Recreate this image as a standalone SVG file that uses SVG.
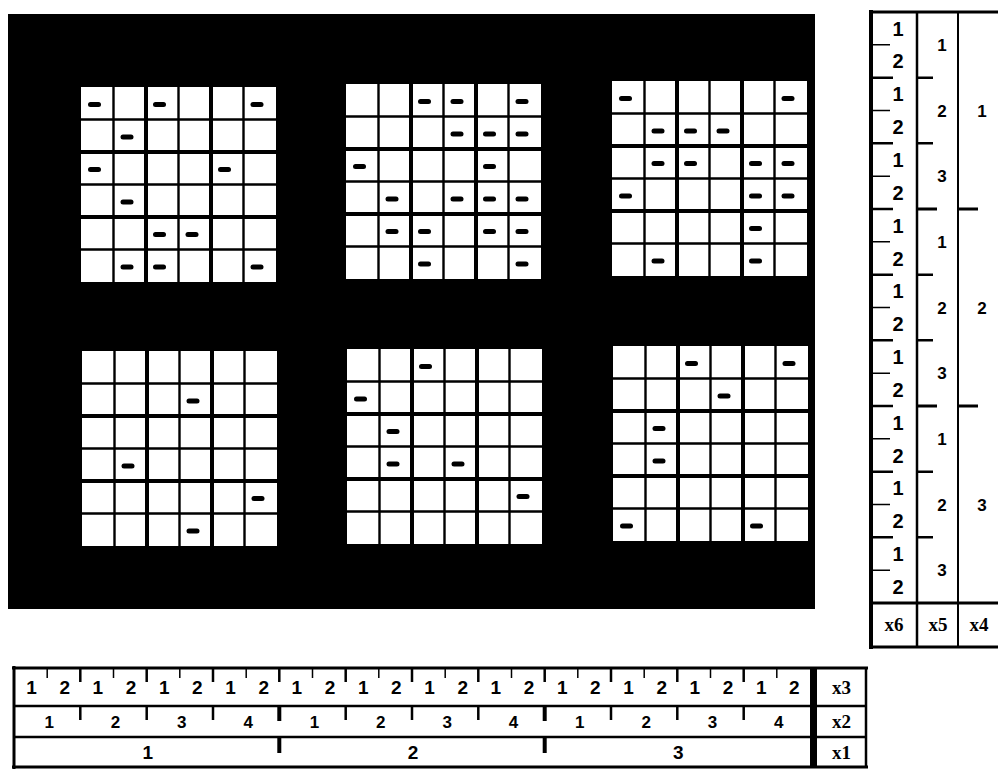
<svg xmlns="http://www.w3.org/2000/svg" xmlns:xlink="http://www.w3.org/1999/xlink" width="998" height="770" viewBox="0 0 998 770">
<style>
.cell{fill:#fff}
.thin{stroke:#000;stroke-width:2.4}
.thick{stroke:#000;stroke-width:4}
.rl{stroke:#000;fill:none}
.n19{font-family:"Liberation Sans",Arial,sans-serif;font-weight:bold;font-size:20px;text-anchor:middle;fill:#000}
.n18{font-family:"Liberation Sans",Arial,sans-serif;font-weight:bold;font-size:19px;text-anchor:middle;fill:#000}
.n16{font-family:"Liberation Sans",Arial,sans-serif;font-weight:bold;font-size:17px;text-anchor:middle;fill:#000}
.lab{font-family:"Liberation Serif","Times New Roman",serif;font-weight:bold;font-size:19px;text-anchor:middle;fill:#000}
</style>
<defs>
<rect id="d" width="13" height="5" rx="2.5" fill="#000"/>
<g id="grid">
<rect class="cell" x="0" y="0" width="195" height="195"/>
<path class="thin" d="M32.5 0V195M97.5 0V195M162.5 0V195M0 32.5H195M0 97.5H195M0 162.5H195"/>
<path class="thick" d="M65 0V195M130 0V195M0 65H195M0 130H195"/>
</g>
</defs>
<rect width="998" height="770" fill="#fff"/>
<rect id="panel" x="8" y="14" width="807" height="595" fill="#000"/>

<g id="grid1" transform="translate(81,87)">
<use xlink:href="#grid"/>
<use xlink:href="#d" x="7" y="15"/><use xlink:href="#d" x="72" y="15"/><use xlink:href="#d" x="169.5" y="15"/>
<use xlink:href="#d" x="39.5" y="47.5"/>
<use xlink:href="#d" x="7" y="80"/><use xlink:href="#d" x="137" y="80"/>
<use xlink:href="#d" x="39.5" y="112.5"/>
<use xlink:href="#d" x="72" y="145"/><use xlink:href="#d" x="104.5" y="145"/>
<use xlink:href="#d" x="39.5" y="177.5"/><use xlink:href="#d" x="72" y="177.5"/><use xlink:href="#d" x="169.5" y="177.5"/>
</g>

<g id="grid2" transform="translate(346,84)">
<use xlink:href="#grid"/>
<use xlink:href="#d" x="72" y="15"/><use xlink:href="#d" x="104.5" y="15"/><use xlink:href="#d" x="169.5" y="15"/>
<use xlink:href="#d" x="104.5" y="47.5"/><use xlink:href="#d" x="137" y="47.5"/><use xlink:href="#d" x="169.5" y="47.5"/>
<use xlink:href="#d" x="7" y="80"/><use xlink:href="#d" x="137" y="80"/>
<use xlink:href="#d" x="39.5" y="112.5"/><use xlink:href="#d" x="104.5" y="112.5"/><use xlink:href="#d" x="137" y="112.5"/><use xlink:href="#d" x="169.5" y="112.5"/>
<use xlink:href="#d" x="39.5" y="145"/><use xlink:href="#d" x="72" y="145"/><use xlink:href="#d" x="137" y="145"/><use xlink:href="#d" x="169.5" y="145"/>
<use xlink:href="#d" x="72" y="177.5"/><use xlink:href="#d" x="169.5" y="177.5"/>
</g>

<g id="grid3" transform="translate(612,81)">
<use xlink:href="#grid"/>
<use xlink:href="#d" x="7" y="15"/><use xlink:href="#d" x="169.5" y="15"/>
<use xlink:href="#d" x="39.5" y="47.5"/><use xlink:href="#d" x="72" y="47.5"/><use xlink:href="#d" x="104.5" y="47.5"/>
<use xlink:href="#d" x="39.5" y="80"/><use xlink:href="#d" x="72" y="80"/><use xlink:href="#d" x="137" y="80"/><use xlink:href="#d" x="169.5" y="80"/>
<use xlink:href="#d" x="7" y="112.5"/><use xlink:href="#d" x="137" y="112.5"/><use xlink:href="#d" x="169.5" y="112.5"/>
<use xlink:href="#d" x="137" y="145"/>
<use xlink:href="#d" x="39.5" y="177.5"/><use xlink:href="#d" x="137" y="177.5"/>
</g>

<g id="grid4" transform="translate(82,351)">
<use xlink:href="#grid"/>
<use xlink:href="#d" x="104.5" y="47.5"/>
<use xlink:href="#d" x="39.5" y="112.5"/>
<use xlink:href="#d" x="169.5" y="145"/>
<use xlink:href="#d" x="104.5" y="177.5"/>
</g>

<g id="grid5" transform="translate(347,349)">
<use xlink:href="#grid"/>
<use xlink:href="#d" x="72" y="15"/>
<use xlink:href="#d" x="7" y="47.5"/>
<use xlink:href="#d" x="39.5" y="80"/>
<use xlink:href="#d" x="39.5" y="112.5"/><use xlink:href="#d" x="104.5" y="112.5"/>
<use xlink:href="#d" x="169.5" y="145"/>
</g>

<g id="grid6" transform="translate(613,346)">
<use xlink:href="#grid"/>
<use xlink:href="#d" x="72" y="15"/><use xlink:href="#d" x="169.5" y="15"/>
<use xlink:href="#d" x="104.5" y="47.5"/>
<use xlink:href="#d" x="39.5" y="80"/>
<use xlink:href="#d" x="39.5" y="112.5"/>
<use xlink:href="#d" x="7" y="177.5"/><use xlink:href="#d" x="137" y="177.5"/>
</g>

<g id="vruler">
<path class="rl" stroke-width="4" d="M871 10V649"/>
<path class="rl" stroke-width="3" d="M869 12H998M871 603H998M869 647H998"/>
<path class="rl" stroke-width="2.5" d="M917 12V647"/>
<path class="rl" stroke-width="2" d="M958 12V647"/>
<path class="rl" stroke-width="1.5" d="M871 44.8H890M871 110.5H890M871 176.2H890M871 241.8H890M871 307.5H890M871 373.2H890M871 438.8H890M871 504.5H890M871 570.2H890"/>
<path class="rl" stroke-width="2.5" d="M871 77.7H893M871 143.3H893M871 209H893M871 274.7H893M871 340.3H893M871 406H893M871 471.7H893M871 537.3H893"/>
<path class="rl" stroke-width="2.5" d="M917 77.7H933M917 143.3H933M917 274.7H933M917 340.3H933M917 471.7H933M917 537.3H933"/>
<path class="rl" stroke-width="3" d="M917 209H937M917 406H937M958 209H978M958 406H978"/>
<g class="n19">
<text x="898" y="35.6">1</text><text x="898" y="68.4">2</text>
<text x="898" y="101.3">1</text><text x="898" y="134.1">2</text>
<text x="898" y="167">1</text><text x="898" y="199.8">2</text>
<text x="898" y="232.6">1</text><text x="898" y="265.5">2</text>
<text x="898" y="298.3">1</text><text x="898" y="331.2">2</text>
<text x="898" y="364">1</text><text x="898" y="396.8">2</text>
<text x="898" y="429.7">1</text><text x="898" y="462.5">2</text>
<text x="898" y="495.4">1</text><text x="898" y="528.2">2</text>
<text x="898" y="561">1</text><text x="898" y="593.9">2</text>
</g>
<g class="n16">
<text x="942" y="50.9">1</text><text x="942" y="116.6">2</text><text x="942" y="182.3">3</text>
<text x="942" y="247.9">1</text><text x="942" y="313.6">2</text><text x="942" y="379.3">3</text>
<text x="942" y="444.9">1</text><text x="942" y="510.6">2</text><text x="942" y="576.3">3</text>
<text x="982" y="116.6">1</text><text x="982" y="313.6">2</text><text x="982" y="510.6">3</text>
</g>
<g class="lab">
<text x="894" y="631">x6</text><text x="938" y="631">x5</text><text x="979" y="631">x4</text>
</g>
</g>

<g id="hruler">
<path class="rl" stroke-width="3" d="M14 666V769M12 668H868M12 767H868"/>
<path class="rl" stroke-width="2.5" d="M14 706H866M14 737H866M866 668V767"/>
<rect x="810" y="668" width="7" height="99" fill="#000"/>
<path class="rl" stroke-width="1.5" d="M47.2 669V678M113.5 669V678M179.8 669V678M246.2 669V678M312.5 669V678M378.8 669V678M445.2 669V678M511.5 669V678M577.8 669V678M644.2 669V678M710.5 669V678M776.8 669V678"/>
<path class="rl" stroke-width="2.5" d="M80.3 669V682M146.7 669V682M213 669V682M279.3 669V682M345.7 669V682M412 669V682M478.3 669V682M544.7 669V682M611 669V682M677.3 669V682M743.7 669V682"/>
<path class="rl" stroke-width="2.5" d="M80.3 707V720M146.7 707V720M213 707V720M345.7 707V720M412 707V720M478.3 707V720M611 707V720M677.3 707V720M743.7 707V720"/>
<path class="rl" stroke-width="4" d="M279.3 707V721M544.7 707V721M279.3 738V753M544.7 738V753"/>
<g class="n18">
<text x="31.6" y="693.8">1</text><text x="64.8" y="693.8">2</text><text x="97.9" y="693.8">1</text><text x="131.1" y="693.8">2</text>
<text x="164.3" y="693.8">1</text><text x="197.4" y="693.8">2</text><text x="230.6" y="693.8">1</text><text x="263.8" y="693.8">2</text>
<text x="296.9" y="693.8">1</text><text x="330.1" y="693.8">2</text><text x="363.3" y="693.8">1</text><text x="396.4" y="693.8">2</text>
<text x="429.6" y="693.8">1</text><text x="462.8" y="693.8">2</text><text x="495.9" y="693.8">1</text><text x="529.1" y="693.8">2</text>
<text x="562.3" y="693.8">1</text><text x="595.4" y="693.8">2</text><text x="628.6" y="693.8">1</text><text x="661.8" y="693.8">2</text>
<text x="694.9" y="693.8">1</text><text x="728.1" y="693.8">2</text><text x="761.3" y="693.8">1</text><text x="794.4" y="693.8">2</text>
<text x="147.7" y="759.4">1</text><text x="413" y="759.4">2</text><text x="678.3" y="759.4">3</text>
</g>
<g class="n16">
<text x="49.2" y="727.6">1</text><text x="115.5" y="727.6">2</text><text x="181.8" y="727.6">3</text><text x="248.2" y="727.6">4</text>
<text x="314.5" y="727.6">1</text><text x="380.8" y="727.6">2</text><text x="447.2" y="727.6">3</text><text x="513.5" y="727.6">4</text>
<text x="579.8" y="727.6">1</text><text x="646.2" y="727.6">2</text><text x="712.5" y="727.6">3</text><text x="778.8" y="727.6">4</text>
</g>
<g class="lab">
<text x="841.5" y="693.5">x3</text><text x="841.5" y="728">x2</text><text x="841.5" y="759">x1</text>
</g>
</g>
</svg>
